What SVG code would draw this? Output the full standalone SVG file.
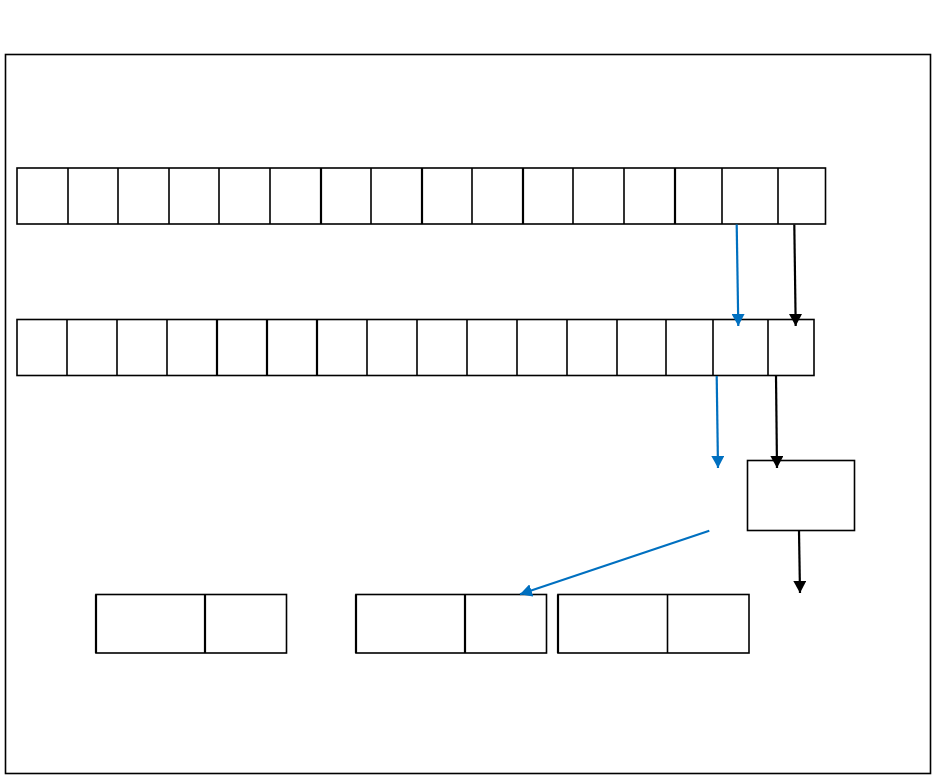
<svg xmlns="http://www.w3.org/2000/svg" width="936" height="775" viewBox="0 0 936 775">
<style>
.b{fill:#fff;stroke:#000;stroke-width:1.6}
.d{stroke:#000;stroke-width:1.6;fill:none}
.k{stroke:#000;stroke-width:2.2;fill:none}
.cb{stroke:#0070C0;stroke-width:2.2;fill:none}
</style>
<defs>
<marker id="ab" markerUnits="userSpaceOnUse" markerWidth="13" markerHeight="13" viewBox="0 0 13 13" refX="12" refY="6.5" orient="auto"><path d="M0,0L12,6.5L0,13z" fill="#0070C0"/></marker>
<marker id="ak" markerUnits="userSpaceOnUse" markerWidth="13" markerHeight="13" viewBox="0 0 13 13" refX="12" refY="6.5" orient="auto"><path d="M0,0L12,6.5L0,13z" fill="#000"/></marker>
</defs>
<rect width="936" height="775" fill="#fff"/>
<rect id="frame" x="5.5" y="54.5" width="925" height="719" class="b"/>
<g id="row1">
<rect x="17" y="168" width="808.5" height="56" class="b"/>
<path class="d" d="M68,168V224M118,168V224M169,168V224M219,168V224M270,168V224M371,168V224M472,168V224M573,168V224M624,168V224M722,168V224M778,168V224"/>
<path class="k" d="M321,168V224M422,168V224M523,168V224M675,168V224"/>
</g>
<g id="row2">
<rect x="17" y="319.5" width="797" height="56" class="b"/>
<path class="d" d="M67,319.5V375.5M117,319.5V375.5M167,319.5V375.5M367,319.5V375.5M417,319.5V375.5M467,319.5V375.5M517,319.5V375.5M567,319.5V375.5M617,319.5V375.5M666,319.5V375.5M713,319.5V375.5M768,319.5V375.5"/>
<path class="k" d="M217,319.5V375.5M267,319.5V375.5M317,319.5V375.5"/>
</g>
<g id="box"><rect x="747.5" y="460.5" width="107" height="70" class="b"/></g>
<g id="pair1">
<rect x="96" y="594.5" width="190.5" height="58.5" class="b"/>
<path class="k" d="M96,594.5V653M205,594.5V653"/>
</g>
<g id="pair2">
<rect x="356" y="594.5" width="190.5" height="58.5" class="b"/>
<path class="k" d="M356,594.5V653M465,594.5V653"/>
</g>
<g id="pair3">
<rect x="558" y="594.5" width="191" height="58.5" class="b"/>
<path class="k" d="M558,594.5V653"/>
<path class="d" d="M667.5,594.5V653"/>
</g>
<g id="connectors">
<path class="cb" d="M736.7,224.5L738.3,326" marker-end="url(#ab)"/>
<path class="k" d="M794.3,224.5L795.7,326" marker-end="url(#ak)"/>
<path class="cb" d="M716.7,376L718,468" marker-end="url(#ab)"/>
<path class="k" d="M776,376L777,468" marker-end="url(#ak)"/>
<path class="k" d="M799,531L800,593" marker-end="url(#ak)"/>
<path class="cb" d="M709.3,530.7L520,594.3" marker-end="url(#ab)"/>
</g>
</svg>
